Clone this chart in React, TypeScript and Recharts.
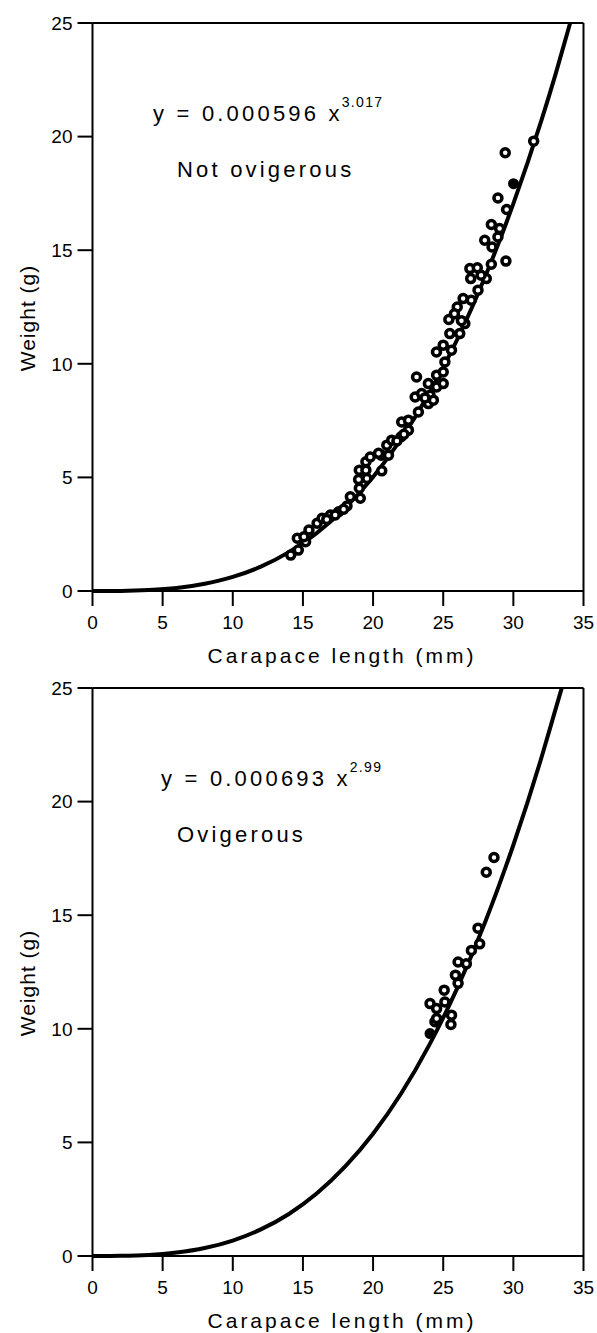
import { ComposedChart, Line, Scatter, XAxis, YAxis, ReferenceLine } from 'recharts'

// carapace length (mm) / weight (g)
const plainLength = [
  14.13, 14.67, 14.6, 15.19, 15.07, 15.43, 16.01, 16.37, 16.96, 17.55, 18.14, 18.38, 19.09, 19.02, 18.97,
  19.56, 19.02, 19.49, 20.62, 19.49, 20.58, 19.8, 20.39, 21.1, 20.98, 21.33, 22.0, 22.52, 22.04, 22.52,
  23.23, 23.94, 23.0, 24.06, 23.46, 24.53, 23.94, 25.0, 23.1, 24.53, 25.0, 25.12, 24.52, 25.0, 25.59,
  25.47, 26.18, 26.54, 25.4, 26.0, 27.0, 26.42, 27.48, 26.96, 28.07, 26.9, 27.43, 28.43, 29.47, 28.48,
  27.96, 28.9, 29.02, 28.43, 29.52, 28.9, 29.42, 31.45,
  16.7, 17.3, 17.9, 21.7, 22.2, 24.3, 23.7, 26.3, 25.8, 27.7,
]
const plainWeight = [
  1.58, 1.8, 2.32, 2.17, 2.39, 2.68, 2.98, 3.2, 3.34, 3.49, 3.74, 4.15, 4.08, 4.52, 4.91,
  4.95, 5.32, 5.32, 5.29, 5.69, 5.98, 5.9, 6.06, 5.98, 6.42, 6.64, 6.79, 7.08, 7.44, 7.52,
  7.88, 8.25, 8.54, 8.62, 8.69, 8.98, 9.13, 9.13, 9.42, 9.5, 9.64, 10.08, 10.52, 10.82, 10.6,
  11.33, 11.33, 11.77, 11.95, 12.5, 12.8, 12.87, 13.24, 13.75, 13.75, 14.19, 14.23, 14.38, 14.52, 15.14,
  15.44, 15.58, 15.95, 16.13, 16.79, 17.3, 19.29, 19.8,
  3.15, 3.35, 3.6, 6.6, 6.9, 8.4, 8.5, 11.9, 12.2, 13.9,
]
const plainSolidLength = [30.01]
const plainSolidWeight = [17.93]

const ovigLength = [
  24.06, 24.53, 24.41, 24.53, 25.07, 25.12, 25.59, 25.55, 25.87, 26.06, 26.06, 26.65, 27.01, 27.6, 27.48,
  28.07, 28.62,
]
const ovigWeight = [
  11.11, 10.89, 10.31, 10.45, 11.7, 11.18, 10.6, 10.19, 12.36, 12.0, 12.94, 12.86, 13.45, 13.74, 14.43,
  16.89, 17.54,
]
const ovigSolidLength = [24.06]
const ovigSolidWeight = [9.79]

// fitted curves
const plainCurveLength = [0, 2, 4, 6, 8, 10, 12, 14, 16, 18, 20, 22, 24, 26, 28, 30, 32, 33, 34.05]
const plainCurveWeight = [0, 0.005, 0.04, 0.13, 0.32, 0.62, 1.07, 1.71, 2.56, 3.65, 5.02, 6.69, 8.7, 11.07, 13.85, 17.05, 20.71, 22.73, 25]
const ovigCurveLength = [0, 2, 4, 6, 8, 10, 12, 14, 16, 18, 20, 22, 24, 26, 28, 30, 32, 33, 33.45]
const ovigCurveWeight = [0, 0.006, 0.04, 0.15, 0.35, 0.68, 1.17, 1.85, 2.76, 3.93, 5.38, 7.15, 9.28, 11.79, 14.71, 18.09, 21.93, 24.05, 25]

const xTicks = [0, 5, 10, 15, 20, 25, 30, 35]
const yTicks = [0, 5, 10, 15, 20, 25]

const FONT = '"Liberation Sans", Arial, Helvetica, sans-serif'

const pairs = (xs: number[], ys: number[]) => xs.map((x, i) => ({ x, y: ys[i] }))

const OpenDot = (props: any) => (
  <circle cx={props.cx} cy={props.cy} r={4} fill="#fff" stroke="#000" strokeWidth={3.5} />
)
const SolidDot = (props: any) => <circle cx={props.cx} cy={props.cy} r={5.5} fill="#000" />

interface PanelProps {
  top: number
  curve: Array<{ x: number; y: number }>
  open: Array<{ x: number; y: number }>
  solid: Array<{ x: number; y: number }>
  coef: string
  power: string
  label: string
  labelLeft: number
  eqLeft: number
}

function Panel({ top, curve, open, solid, coef, power, label, labelLeft, eqLeft }: PanelProps) {
  const tick = { fill: '#000', fontSize: 19, fontFamily: FONT }
  const line = { stroke: '#000', strokeWidth: 2 }
  const note = {
    position: 'absolute' as const,
    fontFamily: FONT,
    fontSize: 22,
    lineHeight: '22px',
    letterSpacing: 3.2,
    whiteSpace: 'nowrap' as const,
    color: '#000',
  }
  return (
    <div style={{ position: 'absolute', left: 0, top, width: 597, height: 668 }}>
      <ComposedChart width={597} height={668} margin={{ top: 23, right: 13.5, bottom: 37, left: 0 }}>
        <XAxis
          dataKey="x"
          type="number"
          domain={[0, 35]}
          ticks={xTicks}
          tick={tick}
          tickSize={15}
          tickMargin={10}
          tickLine={line}
          axisLine={line}
          height={40}
        />
        <YAxis
          dataKey="y"
          type="number"
          domain={[0, 25]}
          ticks={yTicks}
          tick={tick}
          tickSize={15}
          tickMargin={5}
          tickLine={line}
          axisLine={line}
          width={92.5}
        />
        <ReferenceLine y={25} stroke="#000" strokeWidth={2} />
        <ReferenceLine x={35} stroke="#000" strokeWidth={2} />
        <Line
          data={curve}
          dataKey="y"
          type="monotone"
          stroke="#000"
          strokeWidth={4}
          dot={false}
          activeDot={false}
          isAnimationActive={false}
        />
        <Scatter data={open} dataKey="y" shape={OpenDot} isAnimationActive={false} />
        <Scatter data={solid} dataKey="y" shape={SolidDot} isAnimationActive={false} />
      </ComposedChart>
      <div style={{ ...note, left: eqLeft, top: 103 }}>
        y = {coef} x
        <span style={{ fontSize: 14, position: 'relative', top: -14, letterSpacing: 1.3, marginLeft: -1 }}>{power}</span>
      </div>
      <div style={{ ...note, left: labelLeft, top: 159 }}>{label}</div>
      <div
        style={{
          position: 'absolute',
          left: 28 - 100,
          top: 318 - 12,
          width: 200,
          height: 24,
          lineHeight: '24px',
          textAlign: 'center',
          transform: 'rotate(-90deg)',
          fontFamily: FONT,
          fontSize: 21,
          letterSpacing: 1,
          color: '#000',
        }}
      >
        Weight (g)
      </div>
      <div
        style={{
          position: 'absolute',
          left: 142,
          top: 645,
          width: 400,
          lineHeight: '21px',
          textAlign: 'center',
          fontFamily: FONT,
          fontSize: 21,
          letterSpacing: 3,
          whiteSpace: 'nowrap',
          color: '#000',
        }}
      >
        Carapace length (mm)
      </div>
    </div>
  )
}

export default function App() {
  return (
    <div style={{ position: 'absolute', left: 0, top: 0, width: 597, height: 1333, background: '#fff', overflow: 'hidden' }}>
      <Panel
        top={0}
        curve={pairs(plainCurveLength, plainCurveWeight)}
        open={pairs(plainLength, plainWeight)}
        solid={pairs(plainSolidLength, plainSolidWeight)}
        coef="0.000596"
        power="3.017"
        label="Not ovigerous"
        labelLeft={177}
        eqLeft={153}
      />
      <Panel
        top={665}
        curve={pairs(ovigCurveLength, ovigCurveWeight)}
        open={pairs(ovigLength, ovigWeight)}
        solid={pairs(ovigSolidLength, ovigSolidWeight)}
        coef="0.000693"
        power="2.99"
        label="Ovigerous"
        labelLeft={177}
        eqLeft={161}
      />
    </div>
  )
}
